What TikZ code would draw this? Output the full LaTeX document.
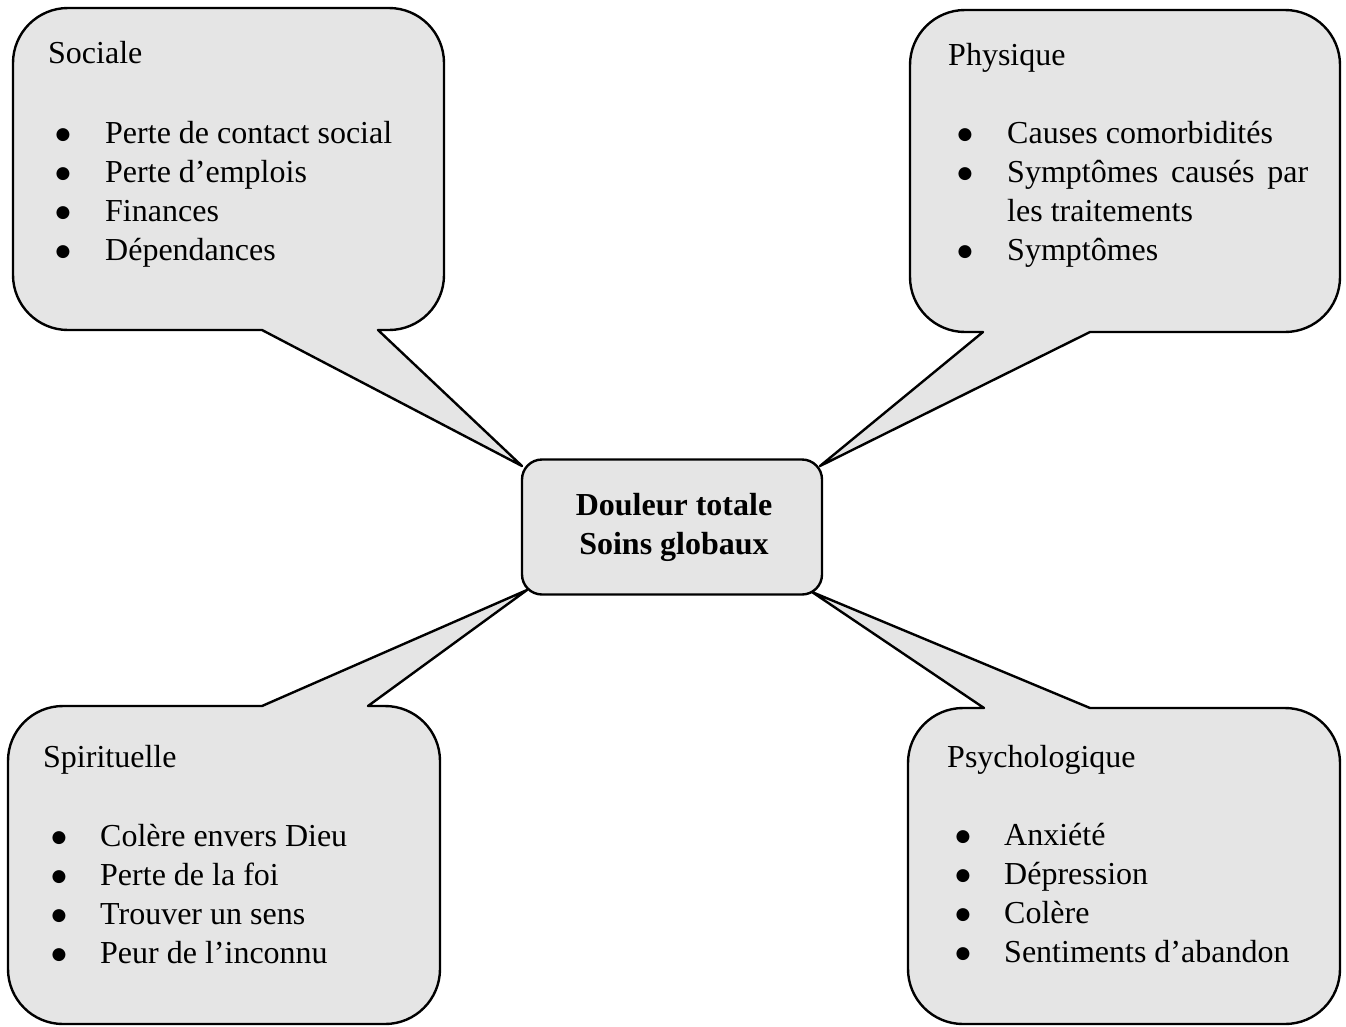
\documentclass[tikz,border=0pt]{standalone}
\usepackage{fontspec}
\setmainfont{Liberation Serif}
\newfontfamily\symfont{DejaVu Sans}
\begin{document}
\begin{tikzpicture}[
   x=1pt,y=-1pt,
   bubble/.style={draw=black,fill=black!10,line width=2.4pt,line join=round},
   core/.style={draw=black,fill=black!10,line width=2.4pt,rounded corners=20pt,minimum width=300pt,minimum height=135pt,inner sep=0pt},
   head/.style={anchor=base west,inner sep=0pt},
   item/.style={anchor=base west,inner sep=0pt},
   dot/.style={anchor=base,inner sep=0pt,font=\fontsize{17}{17}\symfont},
   every node/.style={font=\fontsize{32}{39}\selectfont}
 ]
  \useasboundingbox (0,0) rectangle (1346,1026);
  \coordinate (tipso) at (522,466);
  \coordinate (tipph) at (820,466);
  \coordinate (tipsp) at (527,590);
  \coordinate (tipps) at (812,592);
  % callouts
  \draw[bubble] (262,330) -- (68,330) arc[start angle=90,end angle=180,radius=55]
    -- (13,63) arc[start angle=180,end angle=270,radius=55]
    -- (389,8) arc[start angle=270,end angle=360,radius=55]
    -- (444,275) arc[start angle=0,end angle=90,radius=55]
    -- (378,330) -- (tipso) -- cycle;
  \draw[bubble] (983,332) -- (965,332) arc[start angle=90,end angle=180,radius=55]
    -- (910,65) arc[start angle=180,end angle=270,radius=55]
    -- (1285,10) arc[start angle=270,end angle=360,radius=55]
    -- (1340,277) arc[start angle=0,end angle=90,radius=55]
    -- (1090,332) -- (tipph) -- cycle;
  \draw[bubble] (368,706) -- (385,706) arc[start angle=270,end angle=360,radius=55]
    -- (440,969) arc[start angle=0,end angle=90,radius=55]
    -- (63,1024) arc[start angle=90,end angle=180,radius=55]
    -- (8,761) arc[start angle=180,end angle=270,radius=55]
    -- (262,706) -- (tipsp) -- cycle;
  \draw[bubble] (1090,708) -- (1285,708) arc[start angle=270,end angle=360,radius=55]
    -- (1340,969) arc[start angle=0,end angle=90,radius=55]
    -- (963,1024) arc[start angle=90,end angle=180,radius=55]
    -- (908,763) arc[start angle=180,end angle=270,radius=55]
    -- (984,708) -- (tipps) -- cycle;
  % centre
  \node[core] (ctr) at (672,527) {};
  \node[inner sep=0pt,align=center,font=\fontsize{32}{39}\selectfont\bfseries] (ctrtxt) at (674,527) {Douleur totale\\Soins globaux};
  % Sociale
  \node[head] (so) at (48,63) {Sociale};
  \foreach \txt [count=\i] in {Perte de contact social,Perte d’emplois,Finances,Dépendances}{
    \node[dot] (sob\i) at (63,{100+39*\i}) {●};
    \node[item] (so\i) at (105,{104+39*\i}) {\txt};
  }
  % Physique
  \node[head] (ph) at (948,65) {Physique};
  \node[dot] (phb1) at (965,139) {●};
  \node[item] (ph1) at (1007,143) {Causes comorbidités};
  \node[dot] (phb2) at (965,178) {●};
  \node[item] (ph2) at (1007,182) {\makebox[301pt][l]{Symptômes\hfill causés\hfill par}};
  \node[item] (ph3) at (1007,221) {les traitements};
  \node[dot] (phb3) at (965,256) {●};
  \node[item] (ph4) at (1007,260) {Symptômes};
  % Spirituelle
  \node[head] (sp) at (43,767) {Spirituelle};
  \foreach \txt [count=\i] in {Colère envers Dieu,Perte de la foi,Trouver un sens,Peur de l’inconnu}{
    \node[dot] (spb\i) at (59,{803+39*\i}) {●};
    \node[item] (sp\i) at (100,{807+39*\i}) {\txt};
  }
  % Psychologique
  \node[head] (ps) at (947,767) {Psychologique};
  \foreach \txt [count=\i] in {Anxiété,Dépression,Colère,Sentiments d’abandon}{
    \node[dot] (psb\i) at (963,{802+39*\i}) {●};
    \node[item] (ps\i) at (1004,{806+39*\i}) {\txt};
  }
 \end{tikzpicture}
\end{document}
